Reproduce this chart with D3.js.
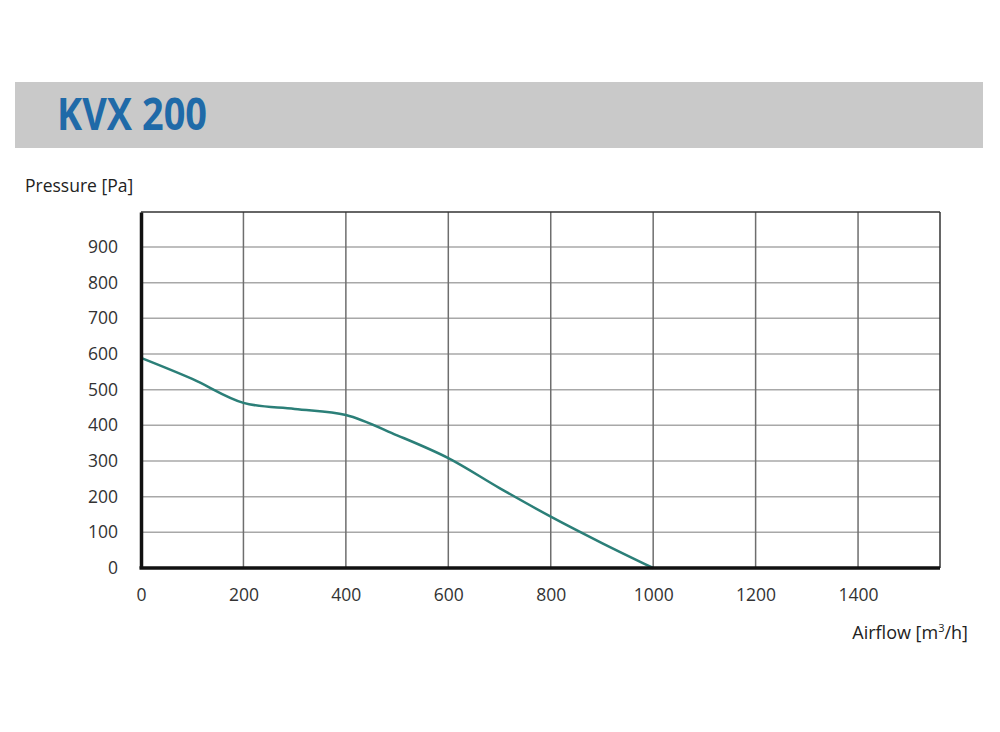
<!DOCTYPE html>
<html>
<head>
<meta charset="utf-8">
<script src="https://cdn.jsdelivr.net/npm/d3@7"></script>
<style>
  body { margin: 0; background: #fff; }
  svg text { font-family: "Open Sans", "Noto Sans", sans-serif; }
</style>
</head>
<body>
<svg id="chart" width="1000" height="732"></svg>
<script>
// Fan curve data
const airflow  = [0, 100, 200, 300, 400, 500, 600, 700, 800, 900, 1000];
const pressure = [589, 530, 463, 446, 429, 372, 308, 224, 144, 70, 0];
const xTicks = [0, 200, 400, 600, 800, 1000, 1200, 1400];
const yTicks = [0, 100, 200, 300, 400, 500, 600, 700, 800, 900];
const title = "KVX 200";

const svg = d3.select("#chart");
const margin = { top: 212, right: 60, bottom: 164, left: 141 };
const width = 1000 - margin.left - margin.right;
const height = 732 - margin.top - margin.bottom;

// Title band
svg.append("rect")
  .attr("x", 15).attr("y", 82)
  .attr("width", 968).attr("height", 66)
  .attr("fill", "#c9c9c9");

svg.append("text")
  .attr("x", 57).attr("y", 130)
  .attr("font-size", 44)
  .attr("font-weight", "bold")
  .attr("fill", "#1f6aa8")
  .attr("textLength", 150)
  .attr("lengthAdjust", "spacingAndGlyphs")
  .text(title);

const g = svg.append("g")
  .attr("transform", `translate(${margin.left},${margin.top})`);

const xScale = d3.scaleLinear().domain([0, 1560]).range([0, width]);
const yScale = d3.scaleLinear().domain([0, 998]).range([height, 0]);

// Horizontal grid
g.selectAll(".hgrid")
  .data(yTicks.filter(d => d > 0))
  .enter().append("line")
  .attr("class", "hgrid")
  .attr("x1", 0).attr("x2", width)
  .attr("y1", d => yScale(d)).attr("y2", d => yScale(d))
  .attr("stroke", "#a8a8a8")
  .attr("stroke-width", 1.5);

// Vertical grid
g.selectAll(".vgrid")
  .data(xTicks.filter(d => d > 0))
  .enter().append("line")
  .attr("class", "vgrid")
  .attr("x1", d => xScale(d)).attr("x2", d => xScale(d))
  .attr("y1", 0).attr("y2", height)
  .attr("stroke", "#6e6e6e")
  .attr("stroke-width", 1.5);

// Top and right frame
g.append("line")
  .attr("x1", 0).attr("x2", width).attr("y1", 0).attr("y2", 0)
  .attr("stroke", "#333").attr("stroke-width", 1.5);
g.append("line")
  .attr("x1", width).attr("x2", width).attr("y1", 0).attr("y2", height)
  .attr("stroke", "#333").attr("stroke-width", 1.5);

// Curve
const line = d3.line()
  .x((d, i) => xScale(airflow[i]))
  .y(d => yScale(d))
  .curve(d3.curveCatmullRom.alpha(0.5));

g.append("path")
  .datum(pressure)
  .attr("fill", "none")
  .attr("stroke", "#2b7f78")
  .attr("stroke-width", 2.5)
  .attr("d", line);

// Axes
const xAxis = g.append("g")
  .attr("transform", `translate(0,${height})`)
  .call(d3.axisBottom(xScale).tickValues(xTicks).tickFormat(d3.format("d")).tickSize(0).tickPadding(21));
const yAxis = g.append("g")
  .call(d3.axisLeft(yScale).tickValues(yTicks).tickFormat(d3.format("d")).tickSize(0).tickPadding(23));

[xAxis, yAxis].forEach(a => {
  a.select(".domain").attr("stroke", "#111").attr("stroke-width", 3.5);
  a.selectAll("text")
    .attr("font-family", "'Open Sans', sans-serif")
    .attr("font-size", 17.5)
    .attr("fill", "#333");
});
xAxis.select(".domain").attr("d", `M-1.5,0H${width}`);

// Axis titles
svg.append("text")
  .attr("x", 25).attr("y", 192)
  .attr("font-size", 17.5)
  .attr("fill", "#222")
  .text("Pressure [Pa]");

const xt = svg.append("text")
  .attr("x", 968).attr("y", 639)
  .attr("text-anchor", "end")
  .attr("font-size", 18)
  .attr("fill", "#222");
xt.append("tspan").text("Airflow [m");
xt.append("tspan").attr("dy", -7).attr("font-size", 11).text("3");
xt.append("tspan").attr("dy", 7).text("/h]");
</script>
</body>
</html>
